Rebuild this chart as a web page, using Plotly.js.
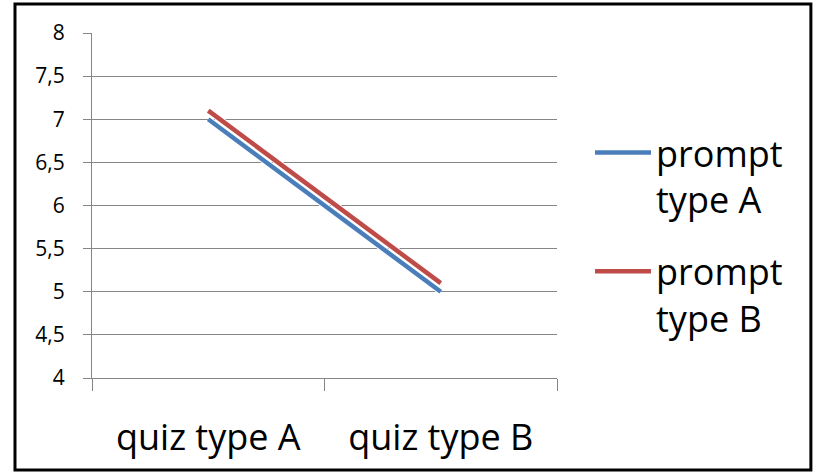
<!DOCTYPE html>
<html>
<head>
<meta charset="utf-8">
<script src="https://cdn.plot.ly/plotly-3.0.1.min.js"></script>
<style>
  html, body { margin: 0; padding: 0; background: #fff; }
  #chart { width: 819px; height: 474px; }
</style>
</head>
<body>
<div id="chart"></div>
<script>
// Categories on the x axis
const quizTypes = ['quiz type A', 'quiz type B'];
// Mean scores per prompt type
const promptA = [7.0, 5.0];
const promptB = [7.1, 5.1];
const seriesNames = ['prompt<br>type A', 'prompt<br>type B'];
const seriesColors = ['#4a7ebb', '#be4b48'];

const seriesValues = [promptA, promptB];
const traces = [];
seriesValues.forEach((vals, i) => {
  // thin white halo under each line
  traces.push({
    x: quizTypes, y: vals, type: 'scatter', mode: 'lines',
    line: { color: '#ffffff', width: 6.5 },
    showlegend: false, hoverinfo: 'skip'
  });
  traces.push({
    x: quizTypes, y: vals, type: 'scatter', mode: 'lines',
    name: seriesNames[i], legendgroup: 'g' + i,
    line: { color: seriesColors[i], width: 4.5 }
  });
});

const layout = {
  width: 819, height: 474,
  margin: { l: 92, r: 262, t: 33, b: 96 },
  paper_bgcolor: '#ffffff', plot_bgcolor: '#ffffff',
  separators: ', ',
  font: { family: 'Open Sans, sans-serif', color: '#000000' },
  showlegend: true,
  legend: {
    x: 1.071, xanchor: 'left', y: 0.74, yanchor: 'top',
    font: { size: 36, color: '#000000' },
    itemwidth: 56, tracegroupgap: 22, bgcolor: 'rgba(0,0,0,0)',
    traceorder: 'grouped', valign: 'top'
  },
  xaxis: {
    type: 'category', range: [-0.5, 1.5],
    tickson: 'boundaries', ticks: 'outside', ticklen: 12, tickcolor: '#868686',
    showline: true, linecolor: '#868686', linewidth: 1,
    showgrid: false, zeroline: false,
    tickfont: { size: 36 }, ticklabelstandoff: 28
  },
  yaxis: {
    range: [4, 8], dtick: 0.5, tick0: 4,
    ticks: 'outside', ticklen: 8, tickcolor: '#868686',
    showline: true, linecolor: '#868686', linewidth: 1,
    showgrid: true, gridcolor: '#868686', gridwidth: 1, zeroline: false,
    tickfont: { size: 21 }, ticklabelstandoff: 14
  },
  shapes: [{
    type: 'rect', xref: 'paper', yref: 'paper',
    x0: -0.1656, x1: 1.546, y0: -0.2667, y1: 1.084,
    line: { color: '#000000', width: 3 }, fillcolor: 'rgba(0,0,0,0)'
  }]
};

Plotly.newPlot('chart', traces, layout, { displayModeBar: false, staticPlot: true });
</script>
</body>
</html>
